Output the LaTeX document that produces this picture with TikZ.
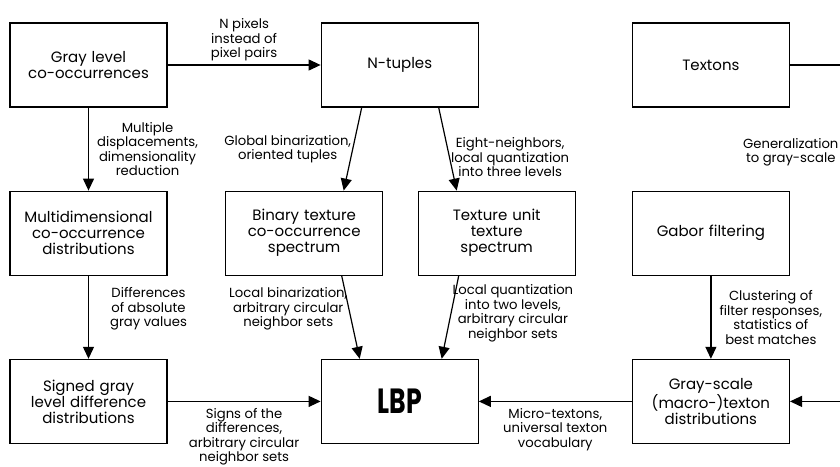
\documentclass[tikz,border=0pt]{standalone}
\usepackage{fontspec}
\usepackage{graphicx}
\setmainfont{Poppins}
\usetikzlibrary{positioning,arrows.meta}

\begin{document}
\begin{tikzpicture}[x=1pt,y=-1pt,node distance=83pt and 153pt]
    \tikzstyle{block} = [rectangle, draw, line width=1.2pt, text width=152pt, align=center, minimum width=157pt, minimum height=84pt, inner sep=2pt, font=\fontsize{15}{16}\selectfont]
    \tikzstyle{arrow} = [line width=1.2pt, -{Triangle[length=12pt,width=11pt]}]
    \tikzstyle{note} = [align=center, inner sep=1pt, font=\fontsize{13.2}{14.5}\selectfont]
    \useasboundingbox (0,0) rectangle (840,466);
    \node (cooc) [block] at (88.5,65) {Gray level\\ co-occurrences};
    \node (ntuples) [block, right=of cooc] {N-tuples};
    \node (textons) [block, right=of ntuples] {Textons};
    \node (multidim) [block, below=of cooc] {Multidimensional\\ co-occurrence\\ distributions};
    \node (binary) [block, below=of ntuples, xshift=-95.5pt] {Binary texture\\ co-occurrence\\ spectrum};
    \node (texunit) [block, below=of ntuples, xshift=97pt] {Texture unit\\ texture\\ spectrum};
    \node (gabor) [block, below=of textons] {Gabor filtering};
    \node (signed) [block, below=of multidim] {Signed gray\\ level difference\\ distributions};
    \node (lbp) [block, right=of signed, font=\fontsize{35}{35}\selectfont\bfseries] {\scalebox{0.72}[1]{LBP}};
    \node (grayscale) [block, below=of gabor] {Gray-scale\\ (macro-)texton\\ distributions};
    \coordinate (turn) at ([xshift=64pt]textons.east);

    \draw [arrow] (cooc) -- node[note, above=2pt] {N pixels\\ instead of\\ pixel pairs} (ntuples);
    \draw [arrow] (cooc) -- node[note, right=7pt] {Multiple\\ displacements,\\ dimensionality\\ reduction} (multidim);
    \draw [arrow] ([xshift=-38pt]ntuples.south) -- node[note, left] {Global binarization,\\ oriented tuples} ([xshift=39.5pt]binary.north);
    \draw [arrow] ([xshift=39pt]ntuples.south) -- node[note, right, pos=0.6] {Eight-neighbors,\\ local quantization\\ into three levels} ([xshift=-40pt]texunit.north);
    \draw [arrow] (multidim) -- node[note, right=20pt, pos=0.4] {Differences\\ of absolute\\ gray values} (signed);
    \draw [arrow] ([xshift=37.5pt]binary.south) -- node[note, left, pos=0.4] {Local binarization,\\ arbitrary circular\\ neighbor sets} ([xshift=-40pt]lbp.north);
    \draw [arrow] ([xshift=-38pt]texunit.south) -- node[note, right, pos=0.45] {Local quantization\\ into two levels,\\ arbitrary circular\\ neighbor sets} ([xshift=42pt]lbp.north);
    \draw [arrow] (signed) -- node[note, below=5pt] {Signs of the\\ differences,\\ arbitrary circular\\ neighbor sets} (lbp);
    \draw [arrow] (grayscale) -- node[note, below=5pt] {Micro-textons,\\ universal texton\\ vocabulary} (lbp);
    \draw [arrow] (gabor) -- node[note, right=7pt] {Clustering of\\ filter responses,\\ statistics of\\ best matches} (grayscale);
    \draw [arrow] (textons) -- (turn) |- node[note, left=14pt, pos=0.13] {Generalization\\ to gray-scale} (grayscale);

\end{tikzpicture}
\end{document}
